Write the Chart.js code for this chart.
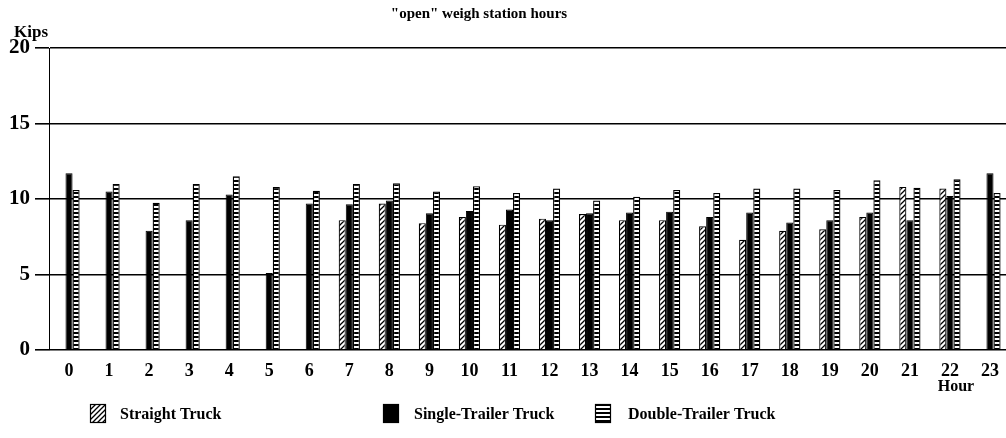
<!DOCTYPE html>
<html>
<head>
<meta charset="utf-8">
<script src="https://cdn.jsdelivr.net/npm/chart.js@4/dist/chart.umd.min.js"></script>
<style>
html,body{margin:0;padding:0;background:#fff;overflow:hidden;}
#wrap{width:1006px;height:438px;overflow:hidden;position:relative;}
canvas{display:block;}
</style>
</head>
<body>
<div id="wrap"><canvas id="c" width="1010" height="438"></canvas></div>
<script>
const hours = ['0','1','2','3','4','5','6','7','8','9','10','11','12','13','14','15','16','17','18','19','20','21','22','23'];
const straightTruck = [null,null,null,null,null,null,null,8.6,9.7,8.4,8.8,8.3,8.7,9.0,8.6,8.6,8.2,7.3,7.9,8.0,8.8,10.8,10.7,null];
const singleTrailer = [11.7,10.5,7.9,8.6,10.3,5.1,9.7,9.65,9.9,9.05,9.2,9.3,8.6,9.05,9.1,9.15,8.8,9.1,8.45,8.6,9.1,8.6,10.2,11.7];
const doubleTrailer = [10.6,11.0,9.75,11.0,11.5,10.8,10.55,11.0,11.05,10.5,10.85,10.4,10.7,9.9,10.15,10.6,10.4,10.7,10.7,10.6,11.25,10.75,11.3,10.4];
const yTicks = [0,5,10,15,20];
const seriesNames = ['Straight Truck','Single-Trailer Truck','Double-Trailer Truck'];
const titleText = '"open" weigh station hours';
const yUnit = 'Kips';
const xUnit = 'Hour';

const FONT = '"Liberation Serif", "Times New Roman", serif';

function hatchPattern(){
  const c = document.createElement('canvas'); c.width = 5; c.height = 5;
  const x = c.getContext('2d');
  x.fillStyle = '#fff'; x.fillRect(0,0,5,5);
  x.strokeStyle = '#000'; x.lineWidth = 1.3;
  x.beginPath();
  x.moveTo(-1,6); x.lineTo(6,-1);
  x.moveTo(-1,1); x.lineTo(1,-1);
  x.moveTo(4,6); x.lineTo(6,4);
  x.stroke();
  return x.createPattern(c,'repeat');
}
function ladderPattern(){
  const c = document.createElement('canvas'); c.width = 4; c.height = 4;
  const x = c.getContext('2d');
  x.fillStyle = '#fff'; x.fillRect(0,0,4,4);
  x.fillStyle = '#000'; x.fillRect(0,0,4,2);
  return x.createPattern(c,'repeat');
}
const hatch = hatchPattern();
const ladder = ladderPattern();

const textPlugin = {
  id: 'texts',
  afterDraw(chart){
    const ctx = chart.ctx;
    ctx.save();
    ctx.fillStyle = '#000';
    ctx.textBaseline = 'alphabetic';
    ctx.font = 'bold 15px ' + FONT;
    ctx.textAlign = 'center';
    ctx.fillText(titleText, 479, 18);
    ctx.font = 'bold 17px ' + FONT;
    ctx.textAlign = 'left';
    ctx.fillText(yUnit, 14, 37);
    ctx.font = 'bold 16px ' + FONT;
    ctx.textAlign = 'center';
    ctx.fillText(xUnit, 956, 391);
    // legend
    const items = [
      {x:90, tx:120, fill:hatch},
      {x:383, tx:414, fill:'#000'},
      {x:595, tx:628, fill:ladder}
    ];
    ctx.font = 'bold 16px ' + FONT;
    ctx.textAlign = 'left';
    items.forEach((it,i)=>{
      ctx.fillStyle = it.fill;
      ctx.fillRect(it.x, 404, 16, 19);
      ctx.strokeStyle = '#000'; ctx.lineWidth = 1.2;
      ctx.strokeRect(it.x+0.5, 404.5, 15, 18);
      ctx.fillStyle = '#000';
      ctx.fillText(seriesNames[i], it.tx, 419);
    });
    ctx.restore();
  }
};

new Chart(document.getElementById('c'), {
  type: 'bar',
  data: {
    labels: hours,
    datasets: [
      {label: seriesNames[0], data: straightTruck, backgroundColor: hatch, borderColor:'#000', borderWidth:1.2, borderSkipped:'bottom'},
      {label: seriesNames[1], data: singleTrailer, backgroundColor: '#000', borderColor:'#000', borderWidth:1, borderSkipped:'bottom'},
      {label: seriesNames[2], data: doubleTrailer, backgroundColor: ladder, borderColor:'#000', borderWidth:1.3, borderSkipped:'bottom'}
    ]
  },
  options: {
    responsive: false,
    animation: false,
    devicePixelRatio: 1,
    layout: {padding: {top: 48, left: 0, right: 0, bottom: 0}},
    datasets: {bar: {categoryPercentage: 0.53, barPercentage: 1.0}},
    plugins: {legend: {display:false}, title:{display:false}, tooltip:{enabled:false}},
    scales: {
      x: {
        grid: {display:false, drawTicks:false},
        border: {display:false},
        ticks: {color:'#000', font:{family:FONT, size:18, weight:'bold'}, padding:11, maxRotation:0, autoSkip:false},
        afterFit(s){ s.height = 88; }
      },
      y: {
        min: 0, max: 20,
        afterBuildTicks(s){ s.ticks = yTicks.map(v=>({value:v})); },
        grid: {color:'#000', lineWidth:1.6, tickLength:14, drawTicks:true},
        border: {display:true, color:'#000', width:1},
        ticks: {color:'#000', font:{family:FONT, size:21, weight:'bold'}, padding:5},
        afterFit(s){ s.width = 49; }
      }
    }
  },
  plugins: [textPlugin]
});
</script>
</body>
</html>
